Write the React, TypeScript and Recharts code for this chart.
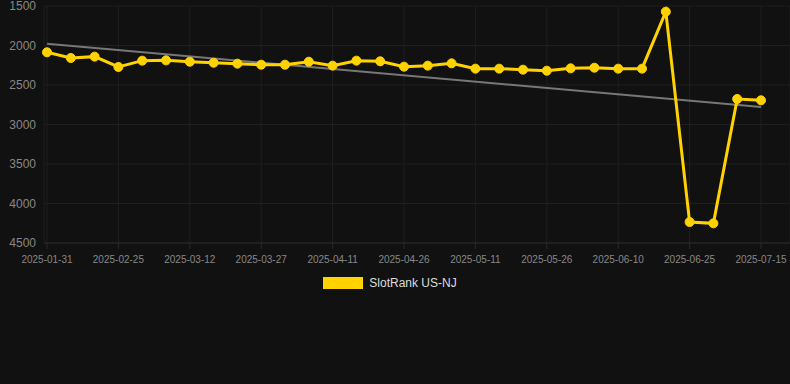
import {
  LineChart,
  Line,
  XAxis,
  YAxis,
  CartesianGrid,
  Legend,
  ReferenceLine,
} from "recharts";

// category dates (only every third one is labelled)
const dates = [
  "2025-01-31", "2025-02-08", "2025-02-17", "2025-02-25", "2025-03-02",
  "2025-03-07", "2025-03-12", "2025-03-17", "2025-03-22", "2025-03-27",
  "2025-04-01", "2025-04-06", "2025-04-11", "2025-04-16", "2025-04-21",
  "2025-04-26", "2025-05-01", "2025-05-06", "2025-05-11", "2025-05-16",
  "2025-05-21", "2025-05-26", "2025-05-31", "2025-06-05", "2025-06-10",
  "2025-06-15", "2025-06-20", "2025-06-25", "2025-06-30", "2025-07-08",
  "2025-07-15",
];

const rankNJ = [
  2086, 2158, 2141, 2272, 2192, 2188, 2205, 2218, 2230, 2243,
  2243, 2205, 2255, 2192, 2200, 2268, 2255, 2226, 2293, 2293,
  2306, 2319, 2289, 2281, 2293, 2293, 1572, 4234, 4251, 2677,
  2694,
];

const yTicks = [1500, 2000, 2500, 3000, 3500, 4000, 4500];

// trend line end values
const trendStart = 1977;
const trendEnd = 2779;

const data = dates.map((d, i) => ({ date: d, rank: rankNJ[i] }));

const GOLD = "#FFD200";

function LegendContent() {
  return (
    <div
      style={{
        display: "flex",
        justifyContent: "center",
        alignItems: "center",
        height: 26,
        paddingRight: 10,
        fontFamily: "Arial, 'Liberation Sans', sans-serif",
        fontSize: 12,
        color: "#dddddd",
      }}
    >
      <span
        style={{
          display: "inline-block",
          width: 40,
          height: 12,
          background: GOLD,
          marginRight: 6,
        }}
      />
      <span>SlotRank US-NJ</span>
    </div>
  );
}

export default function App() {
  return (
    <div
      style={{
        position: "absolute",
        left: 0,
        top: 0,
        width: 790,
        height: 384,
        background: "#111111",
        fontFamily: "Arial, 'Liberation Sans', sans-serif",
      }}
    >
      <LineChart
        width={790}
        height={300}
        data={data}
        margin={{ top: 6, right: 0, left: 0, bottom: 0 }}
      >
        <CartesianGrid stroke="#1f1f1f" />
        <XAxis
          dataKey="date"
          interval={2}
          padding={{ left: 3, right: 29 }}
          tick={{ fill: "#888888", fontSize: 10 }}
          tickMargin={7}
          axisLine={{ stroke: "#2a2a2a" }}
          tickLine={{ stroke: "#2a2a2a" }}
          height={27}
        />
        <YAxis
          reversed
          domain={[1500, 4500]}
          ticks={yTicks}
          interval={0}
          width={44}
          axisLine={false}
          tickLine={false}
          tick={{ fill: "#888888", fontSize: 12 }}
        />
        <ReferenceLine
          segment={[
            { x: dates[0], y: trendStart },
            { x: dates[dates.length - 1], y: trendEnd },
          ]}
          stroke="#777777"
          strokeWidth={2}
        />
        <Line
          dataKey="rank"
          stroke={GOLD}
          strokeWidth={3}
          dot={{ r: 4.5, fill: GOLD, stroke: GOLD, strokeWidth: 1 }}
          activeDot={false}
          isAnimationActive={false}
          name="SlotRank US-NJ"
        />
        <Legend verticalAlign="bottom" height={30} content={<LegendContent />} />
      </LineChart>
    </div>
  );
}
